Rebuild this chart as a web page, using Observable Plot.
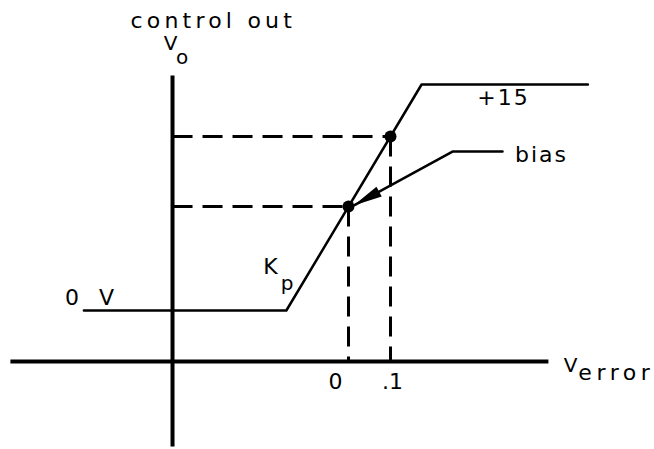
<!DOCTYPE html>
<html>
<head>
<meta charset="utf-8">
<script src="https://cdn.jsdelivr.net/npm/d3@7"></script>
<script src="https://cdn.jsdelivr.net/npm/@observablehq/plot@0.6"></script>
<style>
  html, body { margin: 0; padding: 0; background: #fff; }
  #chart svg { display: block; }
</style>
</head>
<body>
<div id="chart"></div>
<script>
// --- data (error in V, output Vo in V) ---
const curveError = [-0.63, -0.148, 0.174, 0.57];
const curveVo    = [0, 0, 15, 15];

const markedError = [0, 0.1];
const markedVo    = [6.9, 11.55];

const tickValues = [0, 0.1];
const tickLabels = ["0", ".1"];

const axisCrossError = -0.419;
const axisCrossVo    = -3.385;
const errorAxisExtent = [-0.805, 0.476];
const voAxisExtent    = [-9.03, 15.6];

const leaderError = [0.3667, 0.2476, 0.0143];
const leaderVo    = [10.55, 10.55, 7.0];

const mainText  = ["+15", "bias", "K", "0", "V"];
const mainError = [0.369, 0.4595, -0.1833, -0.656, -0.574];
const mainVo    = [13.61, 9.889, 2.39, 0.332, 0.332];

const subText  = ["V", "o", "p", "V"];
const subError = [-0.4214, -0.3940, -0.144, 0.5310];
const subVo    = [17.30, 16.35, 1.36, -4.05];

const titleText = "control out";
const titlePos  = {e: -0.322, v: 18.78};
const xLabelSub = {t: "error", e: 0.5470, v: -4.60};
const tickLabelVo = -5.243;

// --- build tables ---
const curve  = curveError.map((e, i) => ({e, v: curveVo[i]}));
const marked = markedError.map((e, i) => ({e, v: markedVo[i]}));
const leader = leaderError.map((e, i) => ({e, v: leaderVo[i]}));
const mains  = mainText.map((t, i) => ({t, e: mainError[i], v: mainVo[i]}));
const subs   = subText.map((t, i) => ({t, e: subError[i], v: subVo[i]}));
const ticks  = tickValues.map((e, i) => ({t: tickLabels[i], e, v: tickLabelVo}));

const arrowHead = (color) => {
  const m = d3.create("svg:marker")
    .attr("viewBox", "-32 -8 34 16")
    .attr("markerUnits", "userSpaceOnUse")
    .attr("markerWidth", 34).attr("markerHeight", 16)
    .attr("refX", 0).attr("refY", 0)
    .attr("orient", "auto")
    .attr("overflow", "visible");
  m.append("path").attr("d", "M1,0L-28,-5.5L-28,5.5Z").attr("fill", color).attr("stroke", "none");
  return m.node();
};

const font = "DejaVu Sans";

const plot = Plot.plot({
  width: 654,
  height: 449,
  margin: 0,
  x: {domain: [-0.82857, 0.72857], axis: null},
  y: {domain: [-9.2257, 20.575], axis: null},
  style: {background: "#fff", fontFamily: font},
  marks: [
    // axes
    Plot.link([{x1: errorAxisExtent[0], x2: errorAxisExtent[1], y: axisCrossVo}],
      {x1: "x1", x2: "x2", y1: "y", y2: "y", stroke: "#000", strokeWidth: 4}),
    Plot.link([{x: axisCrossError, y1: voAxisExtent[0], y2: voAxisExtent[1]}],
      {x1: "x", x2: "x", y1: "y1", y2: "y2", stroke: "#000", strokeWidth: 4}),
    // dashed guides
    Plot.link(marked, {x1: () => axisCrossError, x2: "e", y1: "v", y2: "v",
      stroke: "#000", strokeWidth: 3, strokeDasharray: "20,10"}),
    Plot.link(marked, {x1: "e", x2: "e", y1: "v", y2: () => axisCrossVo,
      stroke: "#000", strokeWidth: 3, strokeDasharray: "20,10"}),
    // characteristic
    Plot.line(curve, {x: "e", y: "v", stroke: "#000", strokeWidth: 2.5}),
    Plot.dot(marked, {x: "e", y: "v", r: 6, fill: "#000"}),
    // bias leader
    Plot.line(leader, {x: "e", y: "v", stroke: "#000", strokeWidth: 2.5, markerEnd: arrowHead}),
    // texts
    Plot.text([titlePos], {x: "e", y: "v", text: () => titleText, fontSize: 22,
      lineAnchor: "bottom", textAnchor: "middle", fill: "#000", fontFamily: font}),
    Plot.text(mains, {x: "e", y: "v", text: "t", fontSize: 22, lineAnchor: "bottom",
      textAnchor: "middle", fill: "#000", fontFamily: font}),
    Plot.text(subs, {x: "e", y: "v", text: "t", fontSize: 20, lineAnchor: "bottom",
      textAnchor: "middle", fill: "#000", fontFamily: font}),
    Plot.text(ticks.filter(d => d.e === 0), {x: "e", y: "v", text: "t", fontSize: 22,
      lineAnchor: "bottom", textAnchor: "middle", dx: -12, fill: "#000", fontFamily: font}),
    Plot.text(ticks.filter(d => d.e !== 0), {x: "e", y: "v", text: "t", fontSize: 22,
      lineAnchor: "bottom", textAnchor: "middle", dx: 2, fill: "#000", fontFamily: font}),
    Plot.text([xLabelSub], {x: "e", y: "v", text: "t", fontSize: 22, lineAnchor: "bottom",
      textAnchor: "start", fill: "#000", fontFamily: font})
  ]
});

// letter spacing imitating the wide CAD lettering
d3.select(plot).selectAll("text").each(function () {
  const t = this.textContent;
  const ls = t === titleText ? 4.2 : t === "error" ? 4.6 : t === ".1" ? 0 : 2;
  this.style.letterSpacing = ls + "px";
});
document.getElementById("chart").appendChild(plot);
</script>
</body>
</html>
